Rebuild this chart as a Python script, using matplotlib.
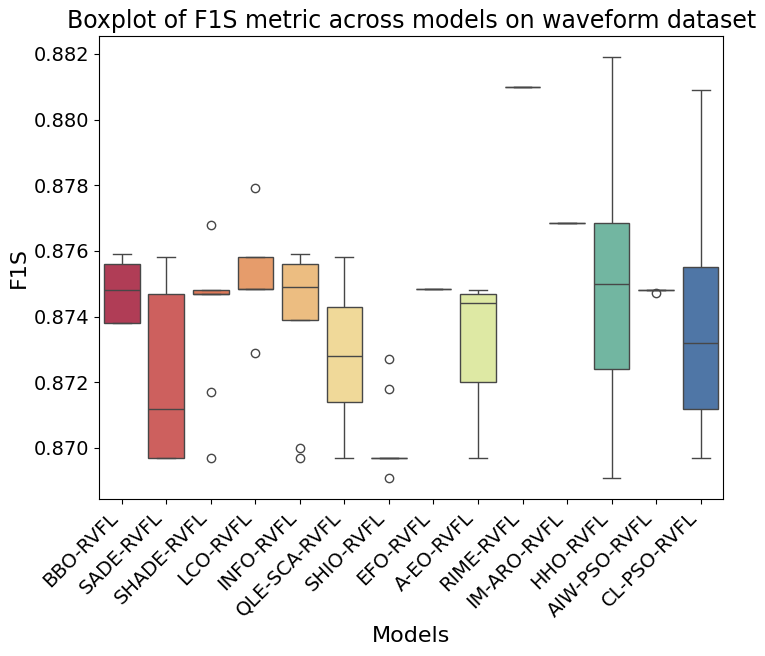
import matplotlib
matplotlib.use("Agg")
import matplotlib.pyplot as plt
import seaborn as sns
import pandas as pd

models = ["BBO-RVFL","SADE-RVFL","SHADE-RVFL","LCO-RVFL","INFO-RVFL","QLE-SCA-RVFL","SHIO-RVFL",
          "EFO-RVFL","A-EO-RVFL","RIME-RVFL","IM-ARO-RVFL","HHO-RVFL","AIW-PSO-RVFL","CL-PSO-RVFL"]
bbo = [0.8738,0.8738,0.8748,0.8756,0.8759]
sade = [0.8697,0.8697,0.8712,0.8747,0.8758]
shade = [0.8697,0.8717,0.8747,0.8747,0.8747,0.8748,0.8748,0.8748,0.8768,0.8747]
lco = [0.8729,0.87485,0.87485,0.87485,0.87485,0.8758,0.8758,0.8758,0.8779]
info = [0.8697,0.8700,0.8739,0.8740,0.8749,0.8756,0.8756,0.8757,0.8759]
qle = [0.8697,0.8714,0.8728,0.8743,0.8758]
shio = [0.8691,0.8697,0.8697,0.8697,0.8697,0.8697,0.8697,0.8718,0.8727]
efo = [0.87485]*5
aeo = [0.8697,0.8720,0.8744,0.8747,0.8748]
rime = [0.8810]*5
imaro = [0.87685]*5
hho = [0.8691,0.8724,0.8750,0.87685,0.8819]
aiw = [0.8748]*6 + [0.87472]
clpso = [0.8697,0.8712,0.8732,0.8755,0.8809]
values = [bbo,sade,shade,lco,info,qle,shio,efo,aeo,rime,imaro,hho,aiw,clpso]

df = pd.DataFrame([(m, v) for m, vs in zip(models, values) for v in vs], columns=["Models","F1S"])

fig, ax = plt.subplots(figsize=(7.65, 6.56), dpi=100)
sns.boxplot(data=df, x="Models", y="F1S", hue="Models", palette="Spectral", legend=False, ax=ax)
ax.set_title("Boxplot of F1S metric across models on waveform dataset", fontsize=17)
ax.set_xlabel("Models", fontsize=16)
ax.set_ylabel("F1S", fontsize=16)
ax.tick_params(axis="both", labelsize=14)
plt.setp(ax.get_xticklabels(), rotation=45, ha="right")
fig.subplots_adjust(left=0.13, right=0.945, top=0.945, bottom=0.24)
fig.savefig("out.png")
